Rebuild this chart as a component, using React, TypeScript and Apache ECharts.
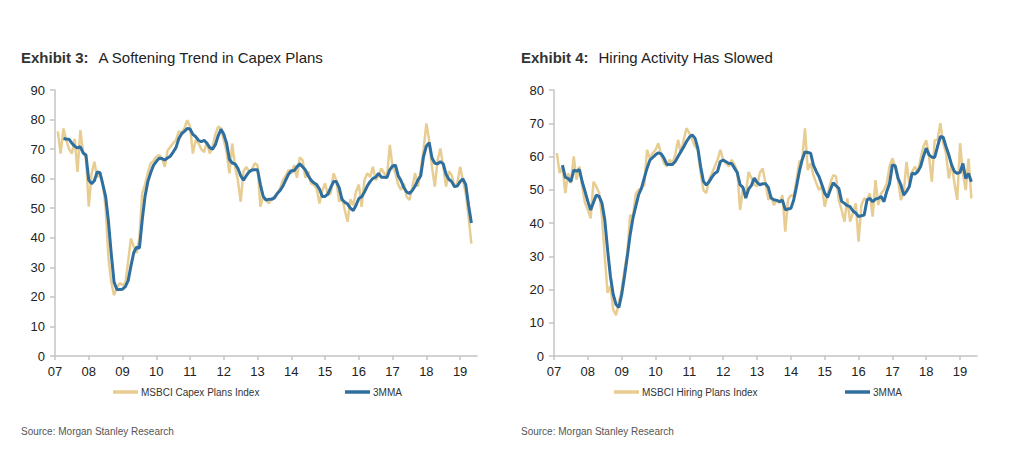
import { useEffect, useRef } from "react";
import * as echarts from "echarts";

// months counted from Jan 2007 (0 = Jan 07, 12 = Jan 08, ...)
const YEAR_TICKS = [0, 12, 24, 36, 48, 60, 72, 84, 96, 108, 120, 132, 144];
const YEAR_LABELS = ["07", "08", "09", "10", "11", "12", "13", "14", "15", "16", "17", "18", "19"];

const INDEX_START = 1; // Feb 2007
const MMA_START = 3; // Apr 2007

const capexIndex = [
  76, 68.5, 77, 73, 70, 68.5, 73.5, 62.3, 76.4, 69, 67,
  50.5, 61.7, 65.7, 60.4, 62, 58.4, 50, 33, 25, 20.6, 23, 24.7,
  24, 24.7, 32, 39.8, 37, 34.8, 40, 55, 58, 62, 65.2, 66,
  67.4, 68, 67, 64, 69.5, 70.7, 72, 73, 76, 75.6, 77, 79.8,
  77.6, 68.5, 73, 72, 70, 69, 72.5, 68.5, 70.7, 75, 77.6, 77,
  73, 69, 61.8, 71.9, 64, 59.5, 52.2, 62.5, 64, 62.5, 63, 65.2,
  64.5, 50.5, 54, 52.8, 51.6, 53.3, 54, 55, 56.7, 59.5, 61, 62.9,
  61.7, 64.6, 60.3, 67.2, 66.3, 60.3, 62.5, 58.4, 58, 56.7, 51.6, 56,
  58.4, 54.5, 55, 61.8, 59.5, 52.2, 54, 49.4, 45.4, 53, 51, 55.6,
  58, 50.5, 59.5, 61.8, 60.6, 64, 59.5, 61, 63.5, 61.8, 60.6, 71.4,
  64, 61.8, 58, 56.2, 58.4, 53.9, 52.8, 57, 61.8, 57.3, 63, 69.7,
  78.7, 73, 64, 57.3, 66.3, 70.2, 64, 57.3, 62.5, 61.2, 57.3, 58.5,
  64, 59.5, 55, 47, 38,
];

const capexMMA = [
  73.6, 73.4, 73.3, 72, 71, 70.4, 70.8, 68.7, 68,
  59.5, 58.3, 59.3, 62.3, 62, 58, 53.9, 45.5, 34.5, 25, 22.5, 22.5,
  22.6, 23.5, 25.5, 30.5, 35, 36.8, 36.5, 46, 54, 59, 62, 64.5,
  65.8, 66.9, 66.8, 66.3, 67, 67.6, 69, 70.5, 73.5, 75.2, 76, 77,
  76.8, 75, 74.2, 73, 72.5, 73, 72, 70.5, 70, 71.5, 74.5, 76.7,
  75, 72, 66.5, 65.3, 65, 63.5, 61, 59.5, 61, 62.3, 62.9, 63,
  63, 58, 54, 52.8, 53, 53, 53.5, 55, 56, 57.5, 59.5, 61.5,
  62.7, 62.7, 64, 65, 64, 62.9, 61, 59.5, 58.6, 58, 56.5, 54,
  54, 54.8, 57, 59, 59, 57, 53, 52, 51.4, 50, 49.2, 51,
  53.3, 53.9, 55.5, 57.5, 59, 60.1, 60.5, 61.8, 60.5, 60.5, 60.4, 63,
  64.3, 64.6, 61, 59.3, 57, 55.5, 55, 56, 57.5, 59.5, 61, 67.5,
  71, 72.2, 67, 65.2, 65, 65.8, 65, 61.5, 59.8, 59, 57.3, 57.5,
  59, 59.9, 58, 51, 45,
];

const hiringIndex = [
  61, 55, 57, 49, 55, 52, 60, 53, 57, 51, 46,
  44, 41.4, 52.4, 51, 49, 42, 30, 19, 21, 14, 12.3, 16,
  20, 26, 31, 42.4, 42, 48.9, 50, 50.5, 51.4, 62, 59.4, 61,
  62, 64, 60.5, 58, 57, 59, 58, 60.5, 65, 61, 65, 68.5,
  67, 65, 63, 62, 55, 49.9, 49, 53, 55, 57, 59, 62,
  59, 58, 57, 59, 57.5, 55.5, 43.9, 50.5, 48.5, 55.4, 53.5, 51.5,
  51, 55.1, 56.4, 52, 47, 48, 45.4, 47, 46, 48.4, 37.4, 47,
  48.4, 48, 53, 58.4, 59, 68.5, 55.9, 58, 54.4, 52, 49.9, 51,
  44.9, 48.4, 52, 54.4, 54, 46.9, 43.9, 40.4, 47.4, 40.4, 43, 45.9,
  34.4, 45.4, 47.4, 47, 48.9, 41.9, 52.9, 45.4, 48.9, 50, 51.9, 57,
  59.4, 57, 53, 46.9, 48.9, 58.4, 51.9, 55.4, 57, 55, 59.4, 62.9,
  64.9, 60, 52.4, 64.9, 65, 70, 64, 61, 53.4, 58, 52, 46.9,
  64, 55, 49.9, 59.4, 47.4,
];

const hiringMMA = [
  57.4, 53.7, 53.4, 52.4, 55.9, 55.6, 56.1, 52.4, 49.5,
  46.5, 43.9, 46.2, 48.4, 48, 46, 41, 32, 24, 18.5, 15.5, 14.6,
  18.5, 24, 30, 36.5, 41.5, 45, 48.5, 50.4, 53.5, 56.5, 58.9, 59.7,
  60.5, 61.1, 60.8, 59.5, 57.6, 57.6, 57.6, 58.5, 60, 61.5, 62.9, 64.5,
  65.8, 66.5, 65.5, 62.5, 57, 52.5, 51.4, 52.4, 53.8, 54.9, 55.5, 58.5,
  58.9, 58.4, 57.9, 57.9, 56.5, 55.1, 51.5, 50.7, 47.5, 50.2, 51.3, 53.5,
  52.2, 51.5, 51.8, 51.8, 50.7, 47.5, 47, 46.8, 46.4, 46.9, 44, 44.2,
  44.4, 46.9, 51, 55.5, 59, 61.4, 61.2, 61, 57.4, 55.5, 53.9, 51.5,
  49, 47.7, 50, 52.1, 51.2, 50.4, 46.5, 45.9, 45.2, 44.9, 43.6, 43,
  41.9, 42.2, 42.4, 46.9, 47.4, 46.4, 47.2, 47.4, 48, 46.4, 49.5, 51.9,
  57.5, 57.2, 53.5, 51.5, 48.4, 49.5, 51, 55, 54.7, 55.5, 57, 60,
  62.5, 60.5, 59.8, 59.7, 63, 66, 65.8, 63, 60.5, 57.5, 55.5, 54.9,
  55.2, 57.9, 53.4, 54.9, 52.4,
];

const GOLD = "#E8CD92";
const BLUE = "#2E6FA0";
const AXIS = "#C4C4C4";
const FONT = "'Liberation Sans', Arial, sans-serif";

const toPoints = (start: number, arr: number[]) => arr.map((v, i) => [start + i, v]);

const xAxisFor = (gridIndex: number) => ({
  type: "value",
  gridIndex,
  min: 0,
  max: 150,
  splitLine: { show: false },
  axisLine: { lineStyle: { color: AXIS, width: 1.5 } },
  axisTick: { customValues: YEAR_TICKS, length: 4, lineStyle: { color: AXIS, width: 1.5 } },
  axisLabel: {
    customValues: YEAR_TICKS,
    margin: 9,
    color: "#222",
    fontSize: 13,
    fontFamily: FONT,
    formatter: (v: number) => YEAR_LABELS[YEAR_TICKS.indexOf(v)] ?? "",
  },
});

const yAxisFor = (gridIndex: number, max: number) => ({
  type: "value",
  gridIndex,
  min: 0,
  max,
  interval: 10,
  splitLine: { show: false },
  axisLine: { show: true, lineStyle: { color: AXIS, width: 1.5 } },
  axisTick: { show: true, length: 5, lineStyle: { color: AXIS, width: 1.5 } },
  axisLabel: { margin: 10, color: "#222", fontSize: 13, fontFamily: FONT },
});

const legendFor = (name: string, left: number) => ({
  data: [name],
  left,
  top: 387,
  icon: "rect",
  itemWidth: 25,
  itemHeight: 3.5,
  itemGap: 0,
  padding: 0,
  selectedMode: false,
  textStyle: { fontSize: 10, color: "#333", fontFamily: FONT, padding: [0, 0, 0, -2] },
});

const titleFor = (label: string, text: string, left: number) => ({
  text: `{b|${label}}  {n|${text}}`,
  left,
  top: 48,
  padding: 0,
  textStyle: {
    fontWeight: "normal",
    rich: {
      b: { fontSize: 15, fontWeight: "bold", color: "#333", fontFamily: FONT },
      n: { fontSize: 15, fontWeight: "normal", color: "#222", fontFamily: FONT },
    },
  },
});

const sourceFor = (left: number) => ({
  text: "Source: Morgan Stanley Research",
  left,
  top: 426,
  padding: 0,
  textStyle: { fontSize: 10, fontWeight: "normal", color: "#555", fontFamily: FONT },
});

export default function App() {
  const ref = useRef<HTMLDivElement>(null);

  useEffect(() => {
    if (!ref.current) return;
    const chart = echarts.init(ref.current, undefined, { renderer: "svg" });
    chart.setOption({
      animation: false,
      backgroundColor: "#fff",
      title: [
        titleFor("Exhibit 3:", "A Softening Trend in Capex Plans", 21),
        titleFor("Exhibit 4:", "Hiring Activity Has Slowed", 521),
        sourceFor(21),
        sourceFor(521),
      ],
      legend: [
        legendFor("MSBCI Capex Plans Index", 113),
        legendFor("3MMA", 345),
        legendFor("MSBCI Hiring Plans Index", 614),
        legendFor("3MMA ", 845),
      ],
      grid: [
        { left: 55, top: 90, width: 422, height: 266 },
        { left: 554, top: 90, width: 423, height: 266 },
      ],
      xAxis: [xAxisFor(0), xAxisFor(1)],
      yAxis: [yAxisFor(0, 90), yAxisFor(1, 80)],
      series: [
        {
          name: "MSBCI Capex Plans Index",
          type: "line",
          xAxisIndex: 0,
          yAxisIndex: 0,
          symbol: "none",
          data: toPoints(INDEX_START, capexIndex),
          lineStyle: { color: GOLD, width: 2.5 },
          itemStyle: { color: GOLD },
        },
        {
          name: "3MMA",
          type: "line",
          xAxisIndex: 0,
          yAxisIndex: 0,
          symbol: "none",
          data: toPoints(MMA_START, capexMMA),
          lineStyle: { color: BLUE, width: 3 },
          itemStyle: { color: BLUE },
        },
        {
          name: "MSBCI Hiring Plans Index",
          type: "line",
          xAxisIndex: 1,
          yAxisIndex: 1,
          symbol: "none",
          data: toPoints(INDEX_START, hiringIndex),
          lineStyle: { color: GOLD, width: 2.5 },
          itemStyle: { color: GOLD },
        },
        {
          name: "3MMA ",
          type: "line",
          xAxisIndex: 1,
          yAxisIndex: 1,
          symbol: "none",
          data: toPoints(MMA_START, hiringMMA),
          lineStyle: { color: BLUE, width: 3 },
          itemStyle: { color: BLUE },
        },
      ],
    });
    return () => chart.dispose();
  }, []);

  return (
    <div
      ref={ref}
      style={{ position: "absolute", left: 0, top: 0, width: 1024, height: 452, background: "#fff" }}
    />
  );
}
